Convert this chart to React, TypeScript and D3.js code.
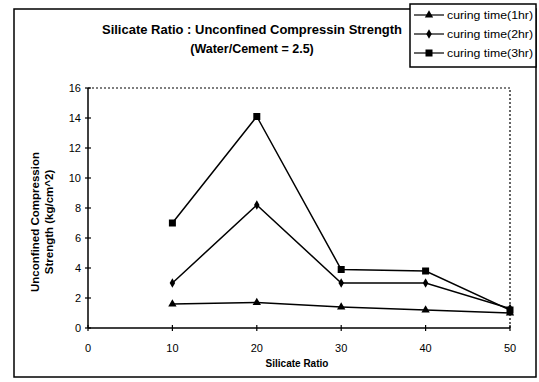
import React from "react";
import * as d3 from "d3";

const silicateRatio = [10, 20, 30, 40, 50];
const curing1hr = [1.6, 1.7, 1.4, 1.2, 1.0];
const curing2hr = [3.0, 8.2, 3.0, 3.0, 1.3];
const curing3hr = [7.0, 14.1, 3.9, 3.8, 1.2];
const xTicks = [0, 10, 20, 30, 40, 50];
const yTicks = [0, 2, 4, 6, 8, 10, 12, 14, 16];
const seriesNames = ["curing time(1hr)", "curing time(2hr)", "curing time(3hr)"];
const seriesShapes = ["triangle", "diamond", "square"];

const W = 539;
const H = 382;
const FONT = "'Liberation Sans', Arial, sans-serif";

function Marker({ shape, x, y }: { shape: string; x: number; y: number }) {
  if (shape === "triangle") {
    const p = d3.symbol(d3.symbolTriangle, 30)();
    return <path d={p || ""} transform={`translate(${x},${y})`} fill="#000" />;
  }
  if (shape === "diamond") {
    const p = d3.symbol(d3.symbolDiamond, 26)();
    return <path d={p || ""} transform={`translate(${x},${y})`} fill="#000" />;
  }
  return <rect x={x - 3.5} y={y - 3.5} width={7} height={7} fill="#000" />;
}

export default function App() {
  const x = d3.scaleLinear().domain([0, 50]).range([88, 510]);
  const y = d3.scaleLinear().domain([0, 16]).range([328, 88]);
  const line = d3
    .line<number>()
    .x((_, i) => x(silicateRatio[i]))
    .y((d) => y(d));
  const series = [curing1hr, curing2hr, curing3hr];

  return (
    <svg width={W} height={H} style={{ position: "absolute", left: 0, top: 0, background: "#fff" }}>
      <rect x={0} y={0} width={W} height={H} fill="#fff" />
      {/* outer chart frame */}
      <rect x={14} y={9} width={522} height={368} fill="none" stroke="#000" strokeWidth={1.5} />

      {/* title */}
      <text x={252} y={34} textAnchor="middle" fontFamily={FONT} fontWeight="bold" fontSize={12.5}
        textLength={300} lengthAdjust="spacingAndGlyphs">
        Silicate Ratio : Unconfined Compressin Strength
      </text>
      <text x={252} y={53} textAnchor="middle" fontFamily={FONT} fontWeight="bold" fontSize={12.5}>
        (Water/Cement = 2.5)
      </text>

      {/* plot area dotted border */}
      <path d={`M${x(0)},${y(16)}H${x(50)}V${y(0)}`} fill="none" stroke="#000" strokeWidth={1.2}
        strokeDasharray="2,2" />

      {/* axes */}
      <line x1={x(0)} x2={x(0)} y1={y(0)} y2={y(16)} stroke="#000" strokeWidth={1.5} />
      <line x1={x(0)} x2={x(50)} y1={y(0)} y2={y(0)} stroke="#000" strokeWidth={1.5} />
      {yTicks.map((t) => (
        <g key={"y" + t}>
          <line x1={x(0) - 3} x2={x(0) + 3} y1={y(t)} y2={y(t)} stroke="#000" strokeWidth={1.2} />
          <text x={81} y={y(t) + 4} textAnchor="end" fontFamily={FONT} fontSize={11}>
            {t}
          </text>
        </g>
      ))}
      {xTicks.map((t) => (
        <g key={"x" + t}>
          <line x1={x(t)} x2={x(t)} y1={y(0) - 3} y2={y(0) + 3} stroke="#000" strokeWidth={1.2} />
          <text x={x(t)} y={352} textAnchor="middle" fontFamily={FONT} fontSize={11}>
            {t}
          </text>
        </g>
      ))}

      {/* axis titles */}
      <text x={297} y={367} textAnchor="middle" fontFamily={FONT} fontWeight="bold" fontSize={10}>
        Silicate Ratio
      </text>
      <g transform="translate(39,222) rotate(-90)">
        <text x={0} y={0} textAnchor="middle" fontFamily={FONT} fontWeight="bold" fontSize={11.5}>
          Unconfined Compression
        </text>
        <text x={0} y={14} textAnchor="middle" fontFamily={FONT} fontWeight="bold" fontSize={11.5}>
          Strength (kg/cm^2)
        </text>
      </g>

      {/* series */}
      {series.map((s, si) => (
        <g key={"s" + si}>
          <path d={line(s) || ""} fill="none" stroke="#000" strokeWidth={1.5} />
          {s.map((v, i) => (
            <Marker key={i} shape={seriesShapes[si]} x={x(silicateRatio[i])} y={y(v)} />
          ))}
        </g>
      ))}

      {/* legend */}
      <rect x={410} y={4} width={126} height={63} fill="#fff" stroke="#000" strokeWidth={1.5} />
      {seriesNames.map((n, i) => {
        const ly = 15 + i * 19;
        return (
          <g key={"l" + i}>
            <line x1={414} x2={444} y1={ly} y2={ly} stroke="#000" strokeWidth={1.2} />
            <Marker shape={seriesShapes[i]} x={429} y={ly} />
            <text x={447} y={ly + 3.5} fontFamily={FONT} fontSize={10} textLength={86}
              lengthAdjust="spacingAndGlyphs">
              {n}
            </text>
          </g>
        );
      })}
    </svg>
  );
}
